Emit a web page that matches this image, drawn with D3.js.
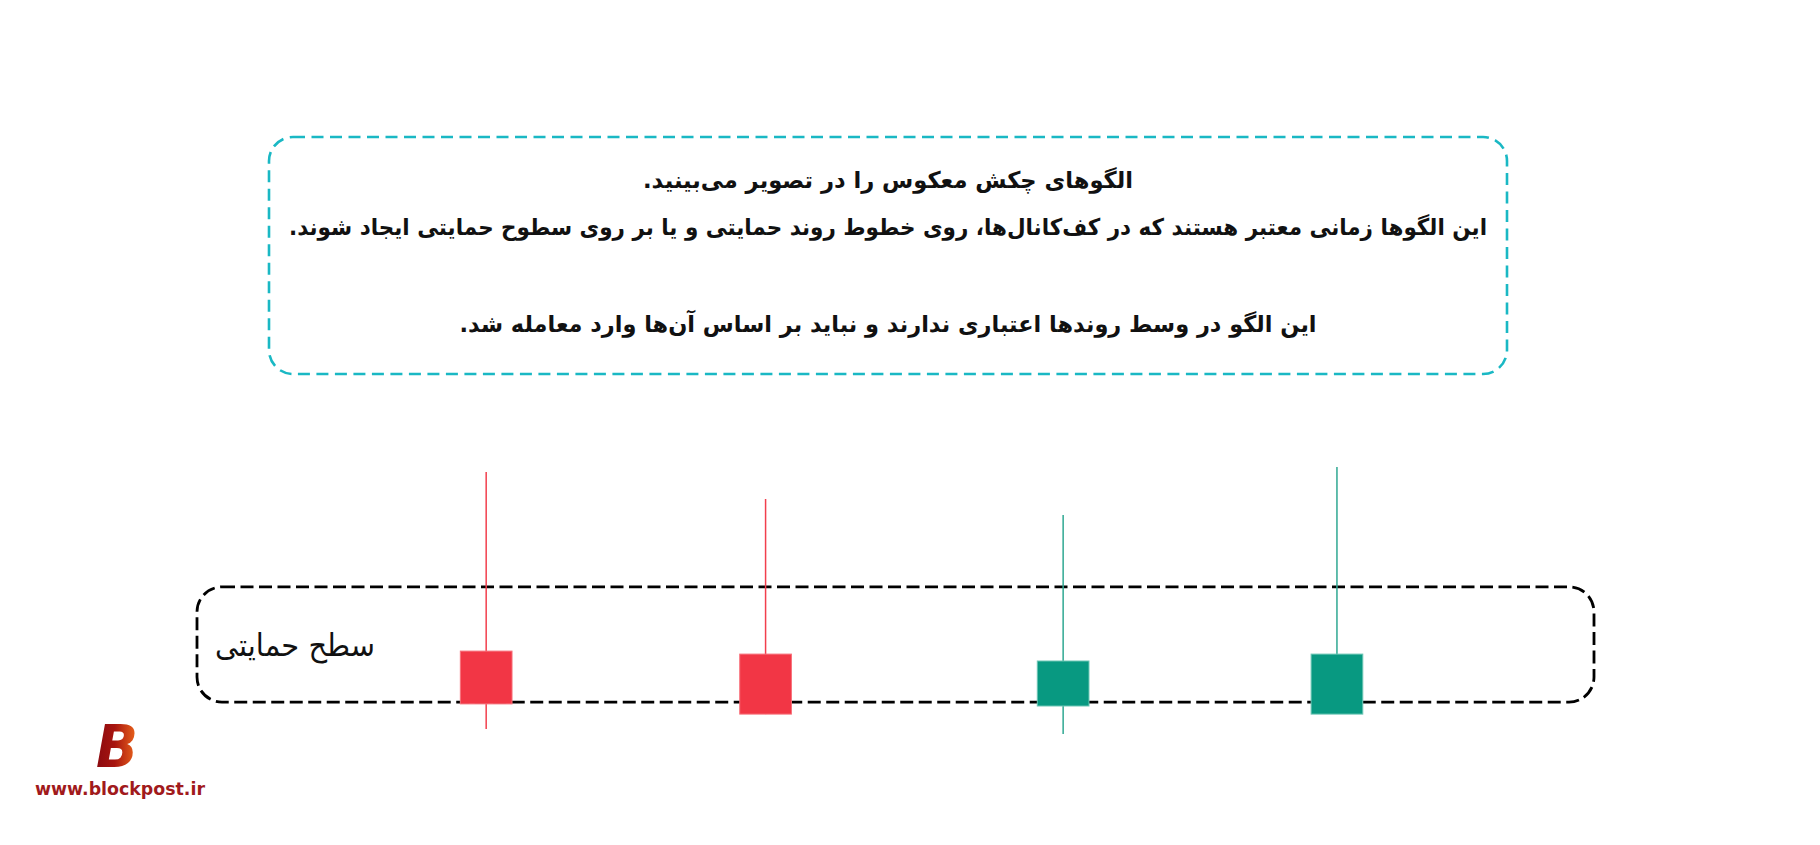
<!DOCTYPE html>
<html lang="fa">
<head>
<meta charset="UTF-8">
<title>Hammer candles on support</title>
<style>
  body { margin: 0; background: #fff; }
  svg { display: block; }
  .note { font-family: "DejaVu Sans", sans-serif; font-weight: bold; fill: #111; }
</style>
</head>
<body>
<div id="chart"></div>
<script src="https://cdnjs.cloudflare.com/ajax/libs/d3/7.8.5/d3.min.js"></script>
<script>
// candles: position on the time axis and OHLC prices
const candleX = [2.07, 4.07, 6.2, 8.16];
const opens  = [36.3, 35.3, 18.0, 15.3];
const highs  = [96.0, 87.0, 81.7, 97.7];
const lows   = [10.3, 15.3, 8.7, 15.3];
const closes = [18.7, 15.3, 33.0, 35.3];

// support zone (time range and price range)
const zoneX = [0, 10];
const zonePrice = [19.3, 57.7];
const zoneLabel = "سطح حمایتی";

const noteLines = [
  "الگوهای چکش معکوس را در تصویر می‌بینید.",
  "این الگوها زمانی معتبر هستند که در کف‌کانال‌ها، روی خطوط روند حمایتی و یا بر روی سطوح حمایتی ایجاد شوند.",
  "این الگو در وسط روندها اعتباری ندارند و نباید بر اساس آن‌ها وارد معامله شد."
];
const siteText = "www.blockpost.ir";

const W = 1820, H = 845;
const svg = d3.select("#chart").append("svg").attr("width", W).attr("height", H);

const x = d3.scaleLinear().domain([0, 10]).range([197, 1594]);
const y = d3.scaleLinear().domain([0, 100]).range([760, 460]);

const candles = candleX.map((t, i) => ({ t, o: opens[i], h: highs[i], l: lows[i], c: closes[i] }));

// note box
svg.append("rect")
  .attr("x", 269).attr("y", 137).attr("width", 1238).attr("height", 237)
  .attr("rx", 24).attr("ry", 24)
  .attr("fill", "none").attr("stroke", "#1ab8c4").attr("stroke-width", 2.6)
  .attr("stroke-dasharray", "12 6.5");

const noteY = [180, 227, 324];
const noteW = [490, 1198, 857];
svg.selectAll("text.note").data(noteLines).join("text")
  .attr("class", "note")
  .attr("x", 888).attr("y", (d, i) => noteY[i])
  .attr("direction", "rtl")
  .attr("text-anchor", "middle")
  .attr("dominant-baseline", "central")
  .attr("textLength", (d, i) => noteW[i])
  .attr("lengthAdjust", "spacingAndGlyphs")
  .style("font-size", "23px")
  .text(d => d);

// support zone
svg.append("rect")
  .attr("x", x(zoneX[0])).attr("y", y(zonePrice[1]))
  .attr("width", x(zoneX[1]) - x(zoneX[0]))
  .attr("height", y(zonePrice[0]) - y(zonePrice[1]))
  .attr("rx", 25).attr("ry", 25)
  .attr("fill", "none").attr("stroke", "#000").attr("stroke-width", 2.8)
  .attr("stroke-dasharray", "13 5.5");

svg.append("text")
  .attr("x", 295).attr("y", 645)
  .attr("direction", "rtl")
  .attr("text-anchor", "middle")
  .attr("dominant-baseline", "central")
  .attr("textLength", 160)
  .attr("lengthAdjust", "spacingAndGlyphs")
  .style("font-family", "'DejaVu Sans', sans-serif")
  .style("font-size", "31px")
  .attr("fill", "#111")
  .text(zoneLabel);

// candles
const bodyW = 0.37 * (x(1) - x(0));
const up = d => d.c >= d.o;
const g = svg.append("g");
g.selectAll("line.wick").data(candles).join("line")
  .attr("class", "wick")
  .attr("x1", d => x(d.t)).attr("x2", d => x(d.t))
  .attr("y1", d => y(d.h)).attr("y2", d => y(d.l))
  .attr("stroke", d => up(d) ? "#2fa892" : "#f23f4d")
  .attr("stroke-width", 1.5);
g.selectAll("rect.body").data(candles).join("rect")
  .attr("class", "body")
  .attr("x", d => x(d.t) - bodyW / 2)
  .attr("width", bodyW)
  .attr("y", d => y(Math.max(d.o, d.c)))
  .attr("height", d => Math.abs(y(d.o) - y(d.c)))
  .attr("fill", d => up(d) ? "#089981" : "#f23645")
  .attr("stroke", d => up(d) ? "#6cc5b4" : "#f7717b")
  .attr("stroke-width", 1);

// logo
const grad = svg.append("defs").append("linearGradient").attr("id", "logoGrad")
  .attr("x1", "0%").attr("x2", "100%");
grad.append("stop").attr("offset", "0%").attr("stop-color", "#8a0a10");
grad.append("stop").attr("offset", "45%").attr("stop-color", "#a8150f");
grad.append("stop").attr("offset", "100%").attr("stop-color", "#ef6a1c");

svg.append("text")
  .attr("x", 96).attr("y", 767)
  .attr("textLength", 42).attr("lengthAdjust", "spacingAndGlyphs")
  .style("font-family", "'DejaVu Sans', sans-serif")
  .style("font-weight", "bold").style("font-style", "italic")
  .style("font-size", "59px")
  .attr("fill", "url(#logoGrad)")
  .text("B");

svg.append("text")
  .attr("x", 35).attr("y", 795)
  .attr("textLength", 170).attr("lengthAdjust", "spacingAndGlyphs")
  .style("font-family", "'DejaVu Sans', sans-serif")
  .style("font-weight", "bold")
  .style("font-size", "17px")
  .attr("fill", "#a11a1c")
  .text(siteText);
</script>
</body>
</html>
